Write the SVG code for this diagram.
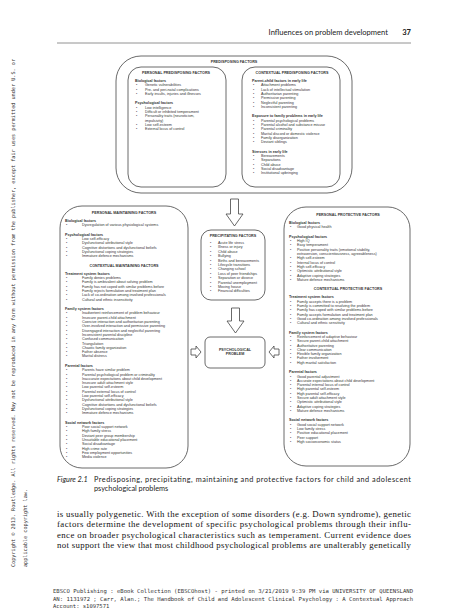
<svg xmlns="http://www.w3.org/2000/svg" width="474" height="613" viewBox="0 0 474 613">
<style>
.t{font-family:"Liberation Sans",Arial,sans-serif;font-size:3.7px;fill:#333}
.h{font-weight:bold}
.ttl{font-weight:bold;text-anchor:middle}
.box{fill:none;stroke:#444;stroke-width:0.8}
.arr{fill:#fff;stroke:#444;stroke-width:0.8;stroke-linejoin:miter}
.hd{font-family:Lato,"Open Sans",sans-serif;fill:#222}
.body{font-family:"Liberation Serif","Times New Roman",serif;font-size:8.8px;fill:#111}
.mono{font-family:"DejaVu Sans Mono","Liberation Mono",monospace;fill:#333}
</style>
<rect width="474" height="613" fill="#fff"/>

<!-- running header -->
<text class="hd" x="388" y="34.5" font-size="7.6" text-anchor="end">Influences on problem development</text>
<text class="hd" x="411" y="34.5" font-size="7.6" text-anchor="end" font-weight="bold">37</text>
<line x1="57" y1="43" x2="411" y2="43" stroke="#777" stroke-width="0.8"/>

<!-- side copyright -->
<text class="mono" font-size="5.2" transform="translate(15,567) rotate(-90)" textLength="508" lengthAdjust="spacingAndGlyphs">Copyright © 2013. Routledge. All rights reserved. May not be reproduced in any form without permission from the publisher, except fair uses permitted under U.S. or</text>
<text class="mono" font-size="5.2" transform="translate(27,567) rotate(-90)" textLength="78" lengthAdjust="spacingAndGlyphs">applicable copyright law.</text>

<!-- connectors -->
<g id="connectors">
  <path class="arr" d="M230.5,199 H238.5 V214 H243 L234.5,226 L226,214 H230.5 Z"/>
  <path class="arr" d="M231.5,308 H239.5 V321 H244 L235.5,333 L227,321 H231.5 Z"/>
  <path class="arr" d="M191,349 H196 V346 L201,352 L196,358 V355 H191 Z"/>
  <path class="arr" d="M279,349 H274 V346 L269,352 L274,358 V355 H279 Z"/>
</g>

<!-- predisposing -->
<g id="predisposing">
  <rect class="box" x="116" y="56" width="236" height="137" rx="25"/>
  <text class="t ttl" x="234" y="62.5">PREDISPOSING FACTORS</text>
</g>

<g id="personal-predisposing">
  <rect class="box" x="128" y="67" width="98" height="120" rx="13"/>
  <text class="t ttl" x="176" y="74">PERSONAL PREDISPOSING FACTORS</text>
  <text class="t h" x="135" y="82">Biological factors</text>
  <text class="t" x="136" y="86.3">•</text><text class="t" x="145" y="86.3">Genetic vulnerabilities</text>
  <text class="t" x="136" y="90.6">•</text><text class="t" x="145" y="90.6">Pre- and peri-natal complications</text>
  <text class="t" x="136" y="94.9">•</text><text class="t" x="145" y="94.9">Early insults, injuries and illnesses</text>
  <text class="t h" x="135" y="104.4">Psychological factors</text>
  <text class="t" x="136" y="108.7">•</text><text class="t" x="145" y="108.7">Low intelligence</text>
  <text class="t" x="136" y="113">•</text><text class="t" x="145" y="113">Difficult or inhibited temperament</text>
  <text class="t" x="136" y="117.3">•</text><text class="t" x="145" y="117.3">Personality traits (neuroticism,</text>
  <text class="t" x="145" y="121.6">impulsivity)</text>
  <text class="t" x="136" y="125.9">•</text><text class="t" x="145" y="125.9">Low self-esteem</text>
  <text class="t" x="136" y="130.2">•</text><text class="t" x="145" y="130.2">External locus of control</text>
</g>

<g id="contextual-predisposing">
  <rect class="box" x="242" y="67" width="98" height="120" rx="13"/>
  <text class="t ttl" x="292" y="74">CONTEXTUAL PREDISPOSING FACTORS</text>
  <text class="t h" x="252" y="82">Parent-child factors in early life</text>
  <text class="t" x="253" y="86.3">•</text><text class="t" x="261" y="86.3">Attachment problems</text>
  <text class="t" x="253" y="90.6">•</text><text class="t" x="261" y="90.6">Lack of intellectual stimulation</text>
  <text class="t" x="253" y="94.9">•</text><text class="t" x="261" y="94.9">Authoritarian parenting</text>
  <text class="t" x="253" y="99.2">•</text><text class="t" x="261" y="99.2">Permissive parenting</text>
  <text class="t" x="253" y="103.5">•</text><text class="t" x="261" y="103.5">Neglectful parenting</text>
  <text class="t" x="253" y="107.8">•</text><text class="t" x="261" y="107.8">Inconsistent parenting</text>
  <text class="t h" x="252" y="117.3">Exposure to family problems in early life</text>
  <text class="t" x="253" y="121.6">•</text><text class="t" x="261" y="121.6">Parental psychological problems</text>
  <text class="t" x="253" y="125.9">•</text><text class="t" x="261" y="125.9">Parental alcohol and substance misuse</text>
  <text class="t" x="253" y="130.2">•</text><text class="t" x="261" y="130.2">Parental criminality</text>
  <text class="t" x="253" y="134.5">•</text><text class="t" x="261" y="134.5">Marital discord or domestic violence</text>
  <text class="t" x="253" y="138.8">•</text><text class="t" x="261" y="138.8">Family disorganization</text>
  <text class="t" x="253" y="143.1">•</text><text class="t" x="261" y="143.1">Deviant siblings</text>
  <text class="t h" x="252" y="152.6">Stresses in early life</text>
  <text class="t" x="253" y="156.9">•</text><text class="t" x="261" y="156.9">Bereavements</text>
  <text class="t" x="253" y="161.2">•</text><text class="t" x="261" y="161.2">Separations</text>
  <text class="t" x="253" y="165.5">•</text><text class="t" x="261" y="165.5">Child abuse</text>
  <text class="t" x="253" y="169.8">•</text><text class="t" x="261" y="169.8">Social disadvantage</text>
  <text class="t" x="253" y="174.1">•</text><text class="t" x="261" y="174.1">Institutional upbringing</text>
</g>

<!-- maintaining -->
<g id="maintaining">
  <rect class="box" x="60" y="206" width="128" height="262" rx="22"/>
  <text class="t ttl" x="124" y="214">PERSONAL MAINTAINING FACTORS</text>
  <text class="t h" x="65" y="222">Biological factors</text>
  <text class="t" x="66" y="226.3">•</text><text class="t" x="82" y="226.3">Dysregulation of various physiological systems</text>
  <text class="t h" x="65" y="235.8">Psychological factors</text>
  <text class="t" x="66" y="240.1">•</text><text class="t" x="82" y="240.1">Low self-efficacy</text>
  <text class="t" x="66" y="244.4">•</text><text class="t" x="82" y="244.4">Dysfunctional attributional style</text>
  <text class="t" x="66" y="248.7">•</text><text class="t" x="82" y="248.7">Cognitive distortions and dysfunctional beliefs</text>
  <text class="t" x="66" y="253">•</text><text class="t" x="82" y="253">Dysfunctional coping strategies</text>
  <text class="t" x="66" y="257.3">•</text><text class="t" x="82" y="257.3">Immature defence mechanisms</text>
  <text class="t ttl" x="124" y="266.8">CONTEXTUAL MAINTAINING FACTORS</text>
  <text class="t h" x="65" y="274.8">Treatment system factors</text>
  <text class="t" x="66" y="279.1">•</text><text class="t" x="82" y="279.1">Family denies problems</text>
  <text class="t" x="66" y="283.4">•</text><text class="t" x="82" y="283.4">Family is ambivalent about solving problem</text>
  <text class="t" x="66" y="287.7">•</text><text class="t" x="82" y="287.7">Family has not coped with similar problems before</text>
  <text class="t" x="66" y="292">•</text><text class="t" x="82" y="292">Family rejects formulation and treatment plan</text>
  <text class="t" x="66" y="296.3">•</text><text class="t" x="82" y="296.3">Lack of co-ordination among involved professionals</text>
  <text class="t" x="66" y="300.6">•</text><text class="t" x="82" y="300.6">Cultural and ethnic insensitivity</text>
  <text class="t h" x="65" y="310.1">Family system factors</text>
  <text class="t" x="66" y="314.4">•</text><text class="t" x="82" y="314.4">Inadvertent reinforcement of problem behaviour</text>
  <text class="t" x="66" y="318.7">•</text><text class="t" x="82" y="318.7">Insecure parent-child attachment</text>
  <text class="t" x="66" y="323">•</text><text class="t" x="82" y="323">Coercive interaction and authoritarian parenting</text>
  <text class="t" x="66" y="327.3">•</text><text class="t" x="82" y="327.3">Over-involved interaction and permissive parenting</text>
  <text class="t" x="66" y="331.6">•</text><text class="t" x="82" y="331.6">Disengaged interaction and neglectful parenting</text>
  <text class="t" x="66" y="335.9">•</text><text class="t" x="82" y="335.9">Inconsistent parental discipline</text>
  <text class="t" x="66" y="340.2">•</text><text class="t" x="82" y="340.2">Confused communication</text>
  <text class="t" x="66" y="344.5">•</text><text class="t" x="82" y="344.5">Triangulation</text>
  <text class="t" x="66" y="348.8">•</text><text class="t" x="82" y="348.8">Chaotic family organization</text>
  <text class="t" x="66" y="353.1">•</text><text class="t" x="82" y="353.1">Father absence</text>
  <text class="t" x="66" y="357.4">•</text><text class="t" x="82" y="357.4">Marital distress</text>
  <text class="t h" x="65" y="366.9">Parental factors</text>
  <text class="t" x="66" y="371.2">•</text><text class="t" x="82" y="371.2">Parents have similar problem</text>
  <text class="t" x="66" y="375.5">•</text><text class="t" x="82" y="375.5">Parental psychological problem or criminality</text>
  <text class="t" x="66" y="379.8">•</text><text class="t" x="82" y="379.8">Inaccurate expectations about child development</text>
  <text class="t" x="66" y="384.1">•</text><text class="t" x="82" y="384.1">Insecure adult attachment style</text>
  <text class="t" x="66" y="388.4">•</text><text class="t" x="82" y="388.4">Low parental self-esteem</text>
  <text class="t" x="66" y="392.7">•</text><text class="t" x="82" y="392.7">Parental external locus of control</text>
  <text class="t" x="66" y="397">•</text><text class="t" x="82" y="397">Low parental self-efficacy</text>
  <text class="t" x="66" y="401.3">•</text><text class="t" x="82" y="401.3">Dysfunctional attributional style</text>
  <text class="t" x="66" y="405.6">•</text><text class="t" x="82" y="405.6">Cognitive distortions and dysfunctional beliefs</text>
  <text class="t" x="66" y="409.9">•</text><text class="t" x="82" y="409.9">Dysfunctional coping strategies</text>
  <text class="t" x="66" y="414.2">•</text><text class="t" x="82" y="414.2">Immature defence mechanisms</text>
  <text class="t h" x="65" y="423.7">Social network factors</text>
  <text class="t" x="66" y="428">•</text><text class="t" x="82" y="428">Poor social support network</text>
  <text class="t" x="66" y="432.3">•</text><text class="t" x="82" y="432.3">High family stress</text>
  <text class="t" x="66" y="436.6">•</text><text class="t" x="82" y="436.6">Deviant peer group membership</text>
  <text class="t" x="66" y="440.9">•</text><text class="t" x="82" y="440.9">Unsuitable educational placement</text>
  <text class="t" x="66" y="445.2">•</text><text class="t" x="82" y="445.2">Social disadvantage</text>
  <text class="t" x="66" y="449.5">•</text><text class="t" x="82" y="449.5">High crime rate</text>
  <text class="t" x="66" y="453.8">•</text><text class="t" x="82" y="453.8">Few employment opportunities</text>
  <text class="t" x="66" y="458.1">•</text><text class="t" x="82" y="458.1">Media violence</text>
</g>

<!-- precipitating -->
<g id="precipitating">
  <rect class="box" x="201" y="230" width="64" height="70" rx="10"/>
  <text class="t ttl" x="233" y="236.5">PRECIPITATING FACTORS</text>
  <text class="t" x="210" y="244">•</text><text class="t" x="218" y="244">Acute life stress</text>
  <text class="t" x="210" y="248.4">•</text><text class="t" x="218" y="248.4">Illness or injury</text>
  <text class="t" x="210" y="252.8">•</text><text class="t" x="218" y="252.8">Child abuse</text>
  <text class="t" x="210" y="257.2">•</text><text class="t" x="218" y="257.2">Bullying</text>
  <text class="t" x="210" y="261.6">•</text><text class="t" x="218" y="261.6">Births and bereavements</text>
  <text class="t" x="210" y="266">•</text><text class="t" x="218" y="266">Lifecycle transitions</text>
  <text class="t" x="210" y="270.4">•</text><text class="t" x="218" y="270.4">Changing school</text>
  <text class="t" x="210" y="274.8">•</text><text class="t" x="218" y="274.8">Loss of peer friendships</text>
  <text class="t" x="210" y="279.2">•</text><text class="t" x="218" y="279.2">Separation or divorce</text>
  <text class="t" x="210" y="283.6">•</text><text class="t" x="218" y="283.6">Parental unemployment</text>
  <text class="t" x="210" y="288">•</text><text class="t" x="218" y="288">Moving house</text>
  <text class="t" x="210" y="292.4">•</text><text class="t" x="218" y="292.4">Financial difficulties</text>
</g>

<!-- psychological problem -->
<g id="problem">
  <rect class="box" x="205" y="337" width="60" height="31" rx="5"/>
  <text class="t ttl" x="235" y="350.5">PSYCHOLOGICAL</text>
  <text class="t ttl" x="235" y="355">PROBLEM</text>
</g>

<!-- protective -->
<g id="protective">
  <rect class="box" x="284" y="207" width="126" height="259" rx="22"/>
  <text class="t ttl" x="348" y="216">PERSONAL PROTECTIVE FACTORS</text>
  <text class="t h" x="289" y="224">Biological factors</text>
  <text class="t" x="290" y="228.3">•</text><text class="t" x="297" y="228.3">Good physical health</text>
  <text class="t h" x="289" y="237.8">Psychological factors</text>
  <text class="t" x="290" y="242.1">•</text><text class="t" x="297" y="242.1">High IQ</text>
  <text class="t" x="290" y="246.4">•</text><text class="t" x="297" y="246.4">Easy temperament</text>
  <text class="t" x="290" y="250.7">•</text><text class="t" x="297" y="250.7">Positive personality traits (emotional stability,</text>
  <text class="t" x="297" y="255">extraversion, conscientiousness, agreeableness)</text>
  <text class="t" x="290" y="259.3">•</text><text class="t" x="297" y="259.3">High self-esteem</text>
  <text class="t" x="290" y="263.6">•</text><text class="t" x="297" y="263.6">Internal locus of control</text>
  <text class="t" x="290" y="267.9">•</text><text class="t" x="297" y="267.9">High self-efficacy</text>
  <text class="t" x="290" y="272.2">•</text><text class="t" x="297" y="272.2">Optimistic attributional style</text>
  <text class="t" x="290" y="276.5">•</text><text class="t" x="297" y="276.5">Adaptive coping strategies</text>
  <text class="t" x="290" y="280.8">•</text><text class="t" x="297" y="280.8">Mature defence mechanisms</text>
  <text class="t ttl" x="348" y="290.3">CONTEXTUAL PROTECTIVE FACTORS</text>
  <text class="t h" x="289" y="298.3">Treatment system factors</text>
  <text class="t" x="290" y="302.6">•</text><text class="t" x="297" y="302.6">Family accepts there is a problem</text>
  <text class="t" x="290" y="306.9">•</text><text class="t" x="297" y="306.9">Family is committed to resolving the problem</text>
  <text class="t" x="290" y="311.2">•</text><text class="t" x="297" y="311.2">Family has coped with similar problems before</text>
  <text class="t" x="290" y="315.5">•</text><text class="t" x="297" y="315.5">Family accepts formulation and treatment plan</text>
  <text class="t" x="290" y="319.8">•</text><text class="t" x="297" y="319.8">Good co-ordination among involved professionals</text>
  <text class="t" x="290" y="324.1">•</text><text class="t" x="297" y="324.1">Cultural and ethnic sensitivity</text>
  <text class="t h" x="289" y="333.6">Family system factors</text>
  <text class="t" x="290" y="337.9">•</text><text class="t" x="297" y="337.9">Reinforcement of adaptive behaviour</text>
  <text class="t" x="290" y="342.2">•</text><text class="t" x="297" y="342.2">Secure parent-child attachment</text>
  <text class="t" x="290" y="346.5">•</text><text class="t" x="297" y="346.5">Authoritative parenting</text>
  <text class="t" x="290" y="350.8">•</text><text class="t" x="297" y="350.8">Clear communication</text>
  <text class="t" x="290" y="355.1">•</text><text class="t" x="297" y="355.1">Flexible family organization</text>
  <text class="t" x="290" y="359.4">•</text><text class="t" x="297" y="359.4">Father involvement</text>
  <text class="t" x="290" y="363.7">•</text><text class="t" x="297" y="363.7">High marital satisfaction</text>
  <text class="t h" x="289" y="373.2">Parental factors</text>
  <text class="t" x="290" y="377.5">•</text><text class="t" x="297" y="377.5">Good parental adjustment</text>
  <text class="t" x="290" y="381.8">•</text><text class="t" x="297" y="381.8">Accurate expectations about child development</text>
  <text class="t" x="290" y="386.1">•</text><text class="t" x="297" y="386.1">Parental internal locus of control</text>
  <text class="t" x="290" y="390.4">•</text><text class="t" x="297" y="390.4">High parental self-esteem</text>
  <text class="t" x="290" y="394.7">•</text><text class="t" x="297" y="394.7">High parental self-efficacy</text>
  <text class="t" x="290" y="399">•</text><text class="t" x="297" y="399">Secure adult attachment style</text>
  <text class="t" x="290" y="403.3">•</text><text class="t" x="297" y="403.3">Optimistic attributional style</text>
  <text class="t" x="290" y="407.6">•</text><text class="t" x="297" y="407.6">Adaptive coping strategies</text>
  <text class="t" x="290" y="411.9">•</text><text class="t" x="297" y="411.9">Mature defence mechanisms</text>
  <text class="t h" x="289" y="421.4">Social network factors</text>
  <text class="t" x="290" y="425.7">•</text><text class="t" x="297" y="425.7">Good social support network</text>
  <text class="t" x="290" y="430">•</text><text class="t" x="297" y="430">Low family stress</text>
  <text class="t" x="290" y="434.3">•</text><text class="t" x="297" y="434.3">Positive educational placement</text>
  <text class="t" x="290" y="438.6">•</text><text class="t" x="297" y="438.6">Peer support</text>
  <text class="t" x="290" y="442.9">•</text><text class="t" x="297" y="442.9">High socioeconomic status</text>
</g>

<!-- caption -->
<text class="hd" x="57" y="482" font-size="7.3" font-style="italic">Figure 2.1</text>
<text class="hd" x="94" y="482" font-size="7.3" textLength="317" lengthAdjust="spacing">Predisposing, precipitating, maintaining and protective factors for child and adolescent</text>
<text class="hd" x="94" y="491" font-size="7.3">psychological problems</text>

<!-- body text -->
<text class="body" x="57" y="516.5" textLength="354" lengthAdjust="spacing">is usually polygenetic. With the exception of some disorders (e.g. Down syndrome), genetic</text>
<text class="body" x="57" y="527" textLength="354" lengthAdjust="spacing">factors determine the development of specific psychological problems through their influ-</text>
<text class="body" x="57" y="537.5" textLength="354" lengthAdjust="spacing">ence on broader psychological characteristics such as temperament. Current evidence does</text>
<text class="body" x="57" y="548" textLength="354" lengthAdjust="spacing">not support the view that most childhood psychological problems are unalterably genetically</text>

<!-- footer -->
<text class="mono" x="53" y="593" font-size="5.5" textLength="360" lengthAdjust="spacingAndGlyphs">EBSCO Publishing : eBook Collection (EBSCOhost) - printed on 3/21/2019 9:39 PM via UNIVERSITY OF QUEENSLAND</text>
<text class="mono" x="53" y="600.5" font-size="5.5" textLength="360" lengthAdjust="spacingAndGlyphs">AN: 1131972 ; Carr, Alan.; The Handbook of Child and Adolescent Clinical Psychology : A Contextual Approach</text>
<text class="mono" x="53" y="608" font-size="5.5">Account: s1097571</text>
</svg>
